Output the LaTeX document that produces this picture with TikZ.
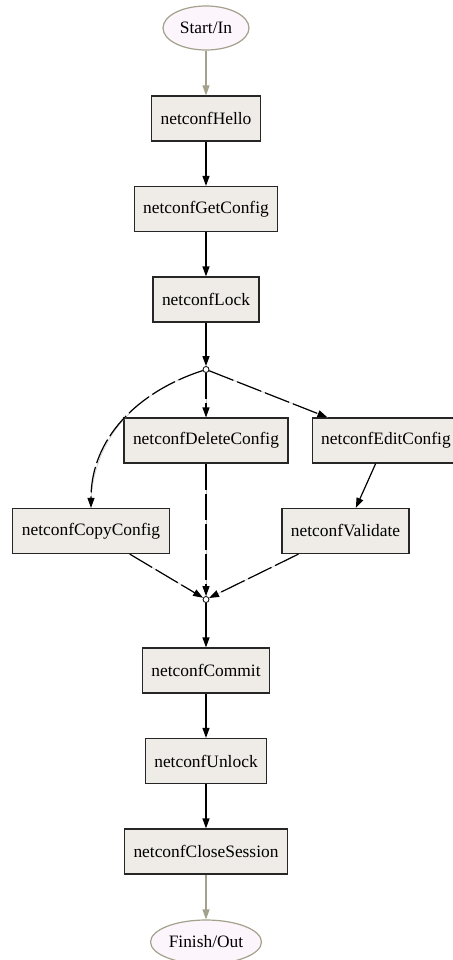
\documentclass[tikz,border=0pt]{standalone}
\usepackage{fontspec}
\setmainfont{Liberation Serif}
\usepackage{xcolor}
\usepackage{tikz}
\usetikzlibrary{arrows.meta}
\usetikzlibrary{shapes.geometric}
\usetikzlibrary{positioning}

\definecolor{boxfill}{HTML}{EFEBE7}
\definecolor{termfill}{HTML}{FCF5FC}
\definecolor{termline}{HTML}{A3A18C}
\tikzset{
	 every node/.style={font=\fontsize{17.4}{20}\selectfont},
	 box/.style={draw=black!85,fill=boxfill,line width=1.2pt,minimum height=45pt,inner xsep=9pt},
	 term/.style={ellipse,draw=termline,fill=termfill,line width=1.2pt,minimum width=86pt,minimum height=44pt,inner xsep=2pt},
	 dot/.style={circle,draw,fill=white,line width=0.8pt,inner sep=0pt,minimum size=6pt},
	 >={Triangle[length=10pt,width=7pt]},
	 flow/.style={->,line width=1.2pt},
	 dashflow/.style={flow,dash pattern=on 26pt off 4pt,preaction={draw=gray!45,line width=0.5pt,solid,-}}
}

\begin{document}
\begin{tikzpicture}[node distance=90.5pt]
	 \useasboundingbox (-206pt,28pt) rectangle (246pt,-932pt);
	 \node[term] (start) at (0,0) {Start/In};
	 \node[box] (hello) [below of=start] {netconfHello};
	 \node[box] (getconfig) [below of=hello] {netconfGetConfig};
	 \node[box] (lock) [below of=getconfig] {netconfLock};
	 \node[dot] (fork) [below of=lock, node distance=70pt] {};
	 \node[box] (delete) [below of=fork, node distance=71pt] {netconfDeleteConfig};
	 \node[box] (edit) [right of=delete, node distance=180pt] {netconfEditConfig};
	 \node[box] (copy) [below of=delete, xshift=-115pt] {netconfCopyConfig};
	 \node[box] (validate) [below of=edit, xshift=-40.5pt] {netconfValidate};
	 \node[dot] (join) [below of=delete, node distance=159pt] {};
	 \node[box] (commit) [below of=join, node distance=71pt] {netconfCommit};
	 \node[box] (unlock) [below of=commit] {netconfUnlock};
	 \node[box] (close) [below of=unlock] {netconfCloseSession};
	 \node[term] (finish) [below of=close] {Finish/Out};
	 \draw[flow,draw=termline] (start) -- (hello);
	 \draw[flow] (hello) -- (getconfig);
	 \draw[flow] (getconfig) -- (lock);
	 \draw[flow] (lock) -- (fork);
	 \draw[dashflow] (fork) to[out=198,in=90] (copy);
	 \draw[dashflow] (fork) -- (delete);
	 \draw[dashflow] (fork) -- (edit);
	 \draw[flow] (edit) -- (validate);
	 \draw[dashflow] (copy) -- (join);
	 \draw[dashflow] (delete) -- (join);
	 \draw[dashflow] (validate) -- (join);
	 \draw[flow] (join) -- (commit);
	 \draw[flow] (commit) -- (unlock);
	 \draw[flow] (unlock) -- (close);
	 \draw[flow,draw=termline] (close) -- (finish);
\end{tikzpicture}
\end{document}
